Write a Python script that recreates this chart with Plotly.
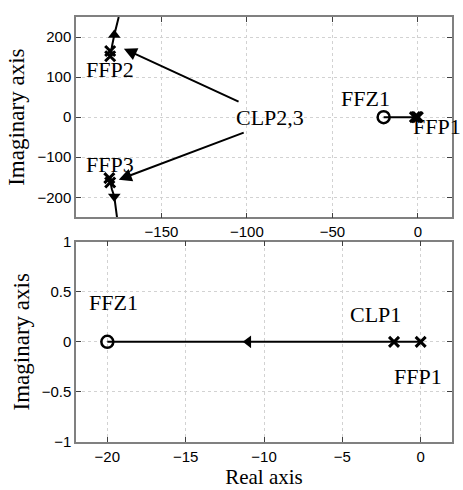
import plotly.graph_objects as go

# ---- data ----
# upper complex branch (top panel)
up_re = [-180.0, -179.5, -178.8, -177.6, -176.3, -175.0]
up_im = [150.0, 165.0, 180.0, 205.0, 228.0, 250.0]
# lower complex branch (top panel)
lo_re = [-180.5, -180.0, -179.0, -177.6, -176.6, -176.0]
lo_im = [-149.0, -163.0, -180.0, -198.0, -225.0, -250.0]
# real branch (top panel)
real_re = [-20.0, 0.0]
real_im = [0.0, 0.0]
# open-loop / closed-loop poles (top panel)
pole_re_top = [-180.0, -180.0, -180.5, -180.0, -1.7, -0.8, 0.0]
pole_im_top = [165.0, 152.0, -152.0, -163.0, 0.0, 0.0, 0.0]
zero_re = [-20.0]
zero_im = [0.0]
# direction arrows on branches (top panel)
arr_up = (-177.6, 205.0)
arr_dn = (-177.6, -198.0)

# bottom panel (zoomed real axis)
b_line_re = [-20.0, 0.0]
b_line_im = [0.0, 0.0]
b_pole_re = [-1.7, 0.0]
b_pole_im = [0.0, 0.0]
b_arrow = (-11.0, 0.0)

top_xticks = [-150, -100, -50, 0]
top_yticks = [-200, -100, 0, 100, 200]
bot_xticks = [-20, -15, -10, -5, 0]
bot_yticks = [-1, -0.5, 0, 0.5, 1]

BLACK = "black"
SERIF = "Liberation Serif"
SANS = "Liberation Sans"

fig = go.Figure()

line_style = dict(color=BLACK, width=2)

# top panel traces
fig.add_trace(go.Scatter(x=up_re, y=up_im, mode="lines", line=line_style, xaxis="x", yaxis="y"))
fig.add_trace(go.Scatter(x=lo_re, y=lo_im, mode="lines", line=line_style, xaxis="x", yaxis="y"))
fig.add_trace(go.Scatter(x=real_re, y=real_im, mode="lines", line=line_style, xaxis="x", yaxis="y"))
fig.add_trace(go.Scatter(x=pole_re_top, y=pole_im_top, mode="markers",
                         marker=dict(symbol="x-thin", size=10, line=dict(color=BLACK, width=3)),
                         xaxis="x", yaxis="y"))
fig.add_trace(go.Scatter(x=zero_re, y=zero_im, mode="markers",
                         marker=dict(symbol="circle-open", size=12, color=BLACK, line=dict(color=BLACK, width=2.5)),
                         xaxis="x", yaxis="y"))
fig.add_trace(go.Scatter(x=[arr_up[0]], y=[arr_up[1]], mode="markers",
                         marker=dict(symbol="triangle-up", size=11, color=BLACK),
                         xaxis="x", yaxis="y"))
fig.add_trace(go.Scatter(x=[arr_dn[0]], y=[arr_dn[1]], mode="markers",
                         marker=dict(symbol="triangle-down", size=11, color=BLACK),
                         xaxis="x", yaxis="y"))

# bottom panel traces
fig.add_trace(go.Scatter(x=b_line_re, y=b_line_im, mode="lines", line=line_style, xaxis="x2", yaxis="y2"))
fig.add_trace(go.Scatter(x=b_pole_re, y=b_pole_im, mode="markers",
                         marker=dict(symbol="x-thin", size=10, line=dict(color=BLACK, width=3)),
                         xaxis="x2", yaxis="y2"))
fig.add_trace(go.Scatter(x=zero_re, y=zero_im, mode="markers",
                         marker=dict(symbol="circle-open", size=12, color=BLACK, line=dict(color=BLACK, width=2.5)),
                         xaxis="x2", yaxis="y2"))
fig.add_trace(go.Scatter(x=[b_arrow[0]], y=[b_arrow[1]], mode="markers",
                         marker=dict(symbol="triangle-left", size=11, color=BLACK),
                         xaxis="x2", yaxis="y2"))

lab_font = dict(family=SERIF, size=22, color=BLACK)

annotations = [
    dict(x=-180, y=119, xref="x", yref="y", text="FFP2", showarrow=False, font=lab_font),
    dict(x=-180, y=-117, xref="x", yref="y", text="FFP3", showarrow=False, font=lab_font),
    dict(x=-30.5, y=46, xref="x", yref="y", text="FFZ1", showarrow=False, font=lab_font),
    dict(x=0, y=-24, xref="x", yref="y", text="FFP1", showarrow=False, font=lab_font,
         xanchor="left", xshift=-7),
    dict(x=-86.5, y=0, xref="x", yref="y", text="CLP2,3", showarrow=False, font=lab_font),
    # arrows CLP2,3 -> poles
    dict(x=-172, y=171, xref="x", yref="y", ax=-104, ay=37, axref="x", ayref="y",
         text="", showarrow=True, arrowhead=2, arrowsize=1.3, arrowwidth=2, arrowcolor=BLACK),
    dict(x=-175, y=-156, xref="x", yref="y", ax=-101, ay=-37, axref="x", ayref="y",
         text="", showarrow=True, arrowhead=2, arrowsize=1.3, arrowwidth=2, arrowcolor=BLACK),
    # bottom panel labels
    dict(x=-19.6, y=0.39, xref="x2", yref="y2", text="FFZ1", showarrow=False, font=lab_font),
    dict(x=-2.9, y=0.27, xref="x2", yref="y2", text="CLP1", showarrow=False, font=lab_font),
    dict(x=-0.2, y=-0.35, xref="x2", yref="y2", text="FFP1", showarrow=False, font=lab_font),
]

axis_common = dict(
    showgrid=True, gridcolor="#d2d2d2", griddash="dot", gridwidth=1,
    showline=True, linecolor="#808080", linewidth=1.5, mirror="allticks",
    ticks="inside", ticklen=5, tickcolor="#404040", tickwidth=1,
    zeroline=False, tickfont=dict(family=SANS, size=15, color=BLACK),
)

title_font_y = dict(family=SERIF, size=23, color=BLACK)
title_font_x = dict(family=SERIF, size=21, color=BLACK)

fig.update_layout(
    width=463, height=490,
    margin=dict(l=76, r=11, t=8, b=45),
    paper_bgcolor="white", plot_bgcolor="white",
    showlegend=False,
    annotations=annotations,
    xaxis=dict(domain=[0, 1], range=[-200, 20], tickvals=top_xticks, anchor="y", **axis_common),
    yaxis=dict(domain=[0.5286, 1], range=[-250, 250], tickvals=top_yticks, anchor="x",
               title=dict(text="Imaginary axis", font=title_font_y, standoff=6), **axis_common),
    xaxis2=dict(domain=[0, 1], range=[-22, 2], tickvals=bot_xticks, anchor="y2",
                title=dict(text="Real axis", font=title_font_x, standoff=3), **axis_common),
    yaxis2=dict(domain=[0, 0.4714], range=[-1, 1], tickvals=bot_yticks, anchor="x2",
                title=dict(text="Imaginary axis", font=title_font_y, standoff=6), **axis_common),
)

fig.write_html("out.html")
